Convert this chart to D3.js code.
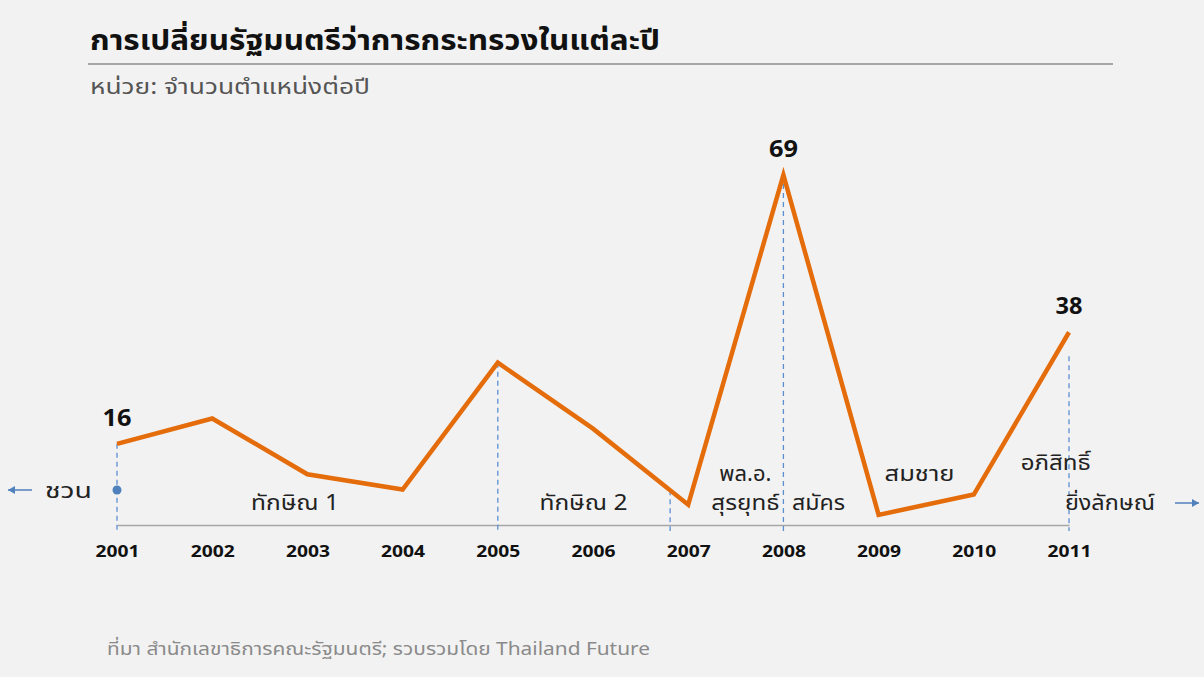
<!DOCTYPE html>
<html>
<head>
<meta charset="utf-8">
<script src="https://cdn.jsdelivr.net/npm/d3@7"></script>
<style>
  html, body { margin: 0; padding: 0; background: #f2f2f2; }
  svg { display: block; }
  text { font-family: "Noto Sans Thai", "Leelawadee UI", Tahoma, "DejaVu Sans", "Noto Sans", sans-serif; }
</style>
</head>
<body>
<svg id="chart" width="1204" height="677"></svg>
<script>
// Ministerial changes per year (positions per year)
const years = [2001, 2002, 2003, 2004, 2005, 2006, 2007, 2008, 2009, 2010, 2011];
const changes = [16, 21, 10, 7, 32, 19, 4, 69, 2, 6, 38];
const labelledYears = [2001, 2008, 2011];

// Government boundaries (year position) and prime-minister labels
const boundaries = [2001, 2005, 2006.81, 2008, 2011];
const pmLabels = [
  { name: "ทักษิณ 1", at: 2002.87, row: 1, w: 88 },
  { name: "ทักษิณ 2", at: 2005.9, row: 1, w: 88 },
  { name: "พล.อ.", at: 2007.6, row: 0, w: 52 },
  { name: "สุรยุทธ์", at: 2007.6, row: 1, w: 68 },
  { name: "สมัคร", at: 2008.37, row: 1, w: 53 },
  { name: "สมชาย", at: 2009.43, row: 0, w: 70 },
  { name: "อภิสิทธิ์", at: 2010.86, row: -1, w: 70 },
  { name: "ยิ่งลักษณ์", at: 2011.43, row: 1, w: 90 }
];

const title = "การเปลี่ยนรัฐมนตรีว่าการกระทรวงในแต่ละปี";
const subtitle = "หน่วย: จำนวนตำแหน่งต่อปี";
const source = "ที่มา สำนักเลขาธิการคณะรัฐมนตรี; รวบรวมโดย Thailand Future";

const svg = d3.select("#chart");
const W = 1204, H = 677;

svg.append("rect").attr("width", W).attr("height", H).attr("fill", "#f2f2f2");

// Stretch a text element horizontally to a given width
const fit = (sel, w) => sel.attr("textLength", w).attr("lengthAdjust", "spacingAndGlyphs");

// Heading
svg.append("text").attr("x", 90).attr("y", 50)
  .attr("font-size", 28).attr("font-weight", "bold").attr("fill", "#111")
  .text(title).call(fit, 570);
svg.append("line").attr("x1", 88).attr("x2", 1113).attr("y1", 64).attr("y2", 64)
  .attr("stroke", "#8c8c8c").attr("stroke-width", 1.5);
svg.append("text").attr("x", 90).attr("y", 94)
  .attr("font-size", 21).attr("fill", "#555")
  .text(subtitle).call(fit, 280);

// Scales
const x = d3.scaleLinear().domain([2001, 2011]).range([117, 1069]);
const y = d3.scaleLinear().domain([0, 69]).range([525, 175]);

// Axis baseline + year labels
const xAxis = d3.axisBottom(x).tickValues(years).tickFormat(d3.format("d")).tickSize(0).tickPadding(21);
const gx = svg.append("g").attr("transform", `translate(0,${y(0)})`).call(xAxis);
gx.select(".domain").attr("stroke", "#a6a6a6").attr("stroke-width", 1.5);
gx.selectAll("text")
  .attr("font-family", "'Liberation Sans', Arial, sans-serif")
  .attr("font-size", 16).attr("font-weight", "bold").attr("fill", "#111")
  .call(fit, 44);

// Dashed boundary lines from the series down to the axis
const interp = yr => {
  const i = Math.min(Math.floor(yr - 2001), years.length - 2);
  const t = yr - years[i];
  return changes[i] + (changes[i + 1] - changes[i]) * t;
};
svg.append("g").selectAll("line").data(boundaries).join("line")
  .attr("x1", d => x(d)).attr("x2", d => x(d))
  .attr("y1", d => d === 2011 ? y(interp(d)) + 24 : y(interp(d)))
  .attr("y2", y(0) + 6)
  .attr("stroke", "#5b8fd0").attr("stroke-width", 1.3)
  .attr("stroke-dasharray", "5,4");

// Series line
const line = d3.line().x((d, i) => x(years[i])).y(d => y(d));
svg.append("path").datum(changes)
  .attr("d", line)
  .attr("fill", "none")
  .attr("stroke", "#e46c0a")
  .attr("stroke-width", 4.5)
  .attr("stroke-linejoin", "miter");

// Value labels
const valueWidths = { 2001: 29, 2008: 29, 2011: 27 };
svg.append("g").selectAll("text").data(labelledYears).join("text")
  .attr("x", d => x(d) - valueWidths[d] / 2)
  .attr("y", d => y(changes[years.indexOf(d)]) - 18)
  .attr("font-family", "Calibri, Carlito, 'Open Sans', sans-serif")
  .attr("font-size", 23).attr("font-weight", "bold").attr("fill", "#111")
  .text(d => changes[years.indexOf(d)])
  .attr("textLength", d => valueWidths[d]).attr("lengthAdjust", "spacingAndGlyphs");

// Prior government marker (ชวน) at 2001
const markerY = 490;
svg.append("circle").attr("cx", x(2001)).attr("cy", markerY).attr("r", 4.5).attr("fill", "#4f81bd");
svg.append("text").attr("x", 45).attr("y", markerY + 8)
  .attr("font-size", 21).attr("fill", "#222").text("ชวน").call(fit, 47);

// Arrows
const arrow = (x1, x2, yy) => {
  const g = svg.append("g");
  g.append("line").attr("x1", x1).attr("x2", x2).attr("y1", yy).attr("y2", yy)
    .attr("stroke", "#4f81bd").attr("stroke-width", 1.5);
  const dir = Math.sign(x2 - x1);
  g.append("path")
    .attr("d", `M${x2},${yy} L${x2 - dir * 7},${yy - 4} L${x2 - dir * 7},${yy + 4} Z`)
    .attr("fill", "#4f81bd");
};
arrow(32, 8, 490);
arrow(1175, 1199, 503);

// Prime minister labels
const rowY = { "-1": 470, "0": 481, "1": 510 };
svg.append("g").selectAll("text").data(pmLabels).join("text")
  .attr("x", d => x(d.at) - d.w / 2)
  .attr("y", d => rowY[d.row])
  .attr("font-size", 21).attr("fill", "#222")
  .text(d => d.name)
  .attr("textLength", d => d.w).attr("lengthAdjust", "spacingAndGlyphs");

// Source note
svg.append("text").attr("x", 107).attr("y", 655)
  .attr("font-size", 18).attr("fill", "#8a8a8a")
  .text(source).call(fit, 543);
</script>
</body>
</html>
